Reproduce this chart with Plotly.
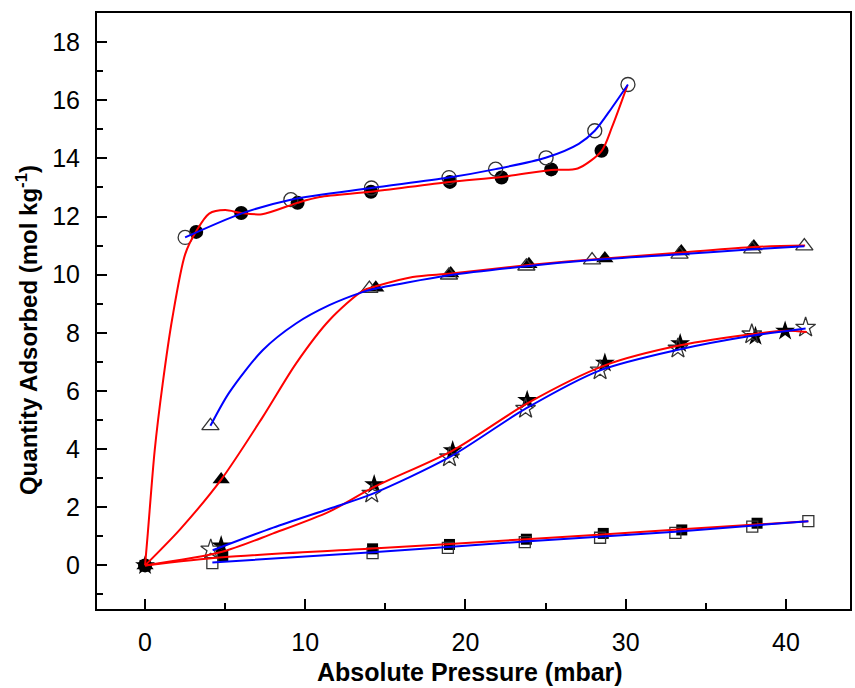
import plotly.graph_objects as go

# ---- measured points ----
oc_x = [2.5, 9.1, 14.13, 18.97, 21.88, 25.03, 28.07, 30.14]
oc_y = [11.28, 12.58, 12.98, 13.34, 13.63, 14.02, 14.95, 16.54]
fc_x = [0, 3.19, 6.0, 9.52, 14.1, 19.03, 22.25, 25.35, 28.49]
fc_y = [0, 11.47, 12.12, 12.47, 12.85, 13.19, 13.34, 13.62, 14.26]

ot_x = [4.08, 14.0, 18.97, 23.8, 27.9, 33.36, 37.9, 41.15]
ot_y = [4.8, 9.52, 9.98, 10.29, 10.5, 10.7, 10.88, 10.98]
ft_x = [0, 4.75, 14.4, 19.08, 23.96, 28.7, 33.47, 38.0]
ft_y = [0, 2.95, 9.55, 10.04, 10.36, 10.56, 10.8, 10.97]

os_x = [4.1, 14.15, 19.0, 23.75, 28.4, 33.26, 37.87, 41.23]
os_y = [0.55, 2.47, 3.72, 5.39, 6.71, 7.46, 7.95, 8.18]
fs_x = [0, 4.75, 14.3, 19.2, 23.85, 28.7, 33.4, 38.1, 39.95]
fs_y = [0, 0.68, 2.78, 3.95, 5.68, 6.96, 7.63, 7.88, 8.06]

osq_x = [4.2, 14.2, 18.9, 23.7, 28.4, 33.1, 37.9, 41.4]
osq_y = [0.08, 0.42, 0.6, 0.8, 0.95, 1.12, 1.33, 1.52]
fsq_x = [0, 4.85, 14.2, 19.0, 23.8, 28.6, 33.5, 38.2]
fsq_y = [0, 0.34, 0.57, 0.72, 0.9, 1.1, 1.22, 1.45]

# ---- fitted curves ----
rc_x = [0, 0.17, 0.6, 1.1, 1.7, 2.5, 3.2, 4.0, 5.0, 6.0, 7.3, 9.5, 10.9, 14.1, 19.0, 22.25, 25.35, 27.0, 28.5, 29.15, 30.1]
rc_y = [0, 1.1, 3.95, 6.25, 8.5, 10.7, 11.5, 12.1, 12.22, 12.12, 12.08, 12.47, 12.67, 12.85, 13.19, 13.36, 13.6, 13.65, 14.26, 15.08, 16.5]
bc_x = [2.5, 6.0, 9.1, 14.13, 18.97, 21.88, 25.0, 27.07, 28.07, 29.15, 30.14]
bc_y = [11.28, 12.1, 12.58, 12.98, 13.34, 13.63, 14.02, 14.5, 14.95, 15.75, 16.54]

rt_x = [0, 2.2, 4.75, 7.34, 9.42, 11.5, 13.6, 14.4, 16.7, 19.1, 23.95, 28.7, 33.5, 38.0, 41.2]
rt_y = [0, 1.25, 2.95, 5.1, 6.94, 8.43, 9.45, 9.6, 9.92, 10.04, 10.33, 10.56, 10.76, 10.95, 11.0]
bt_x = [4.08, 5.26, 7.34, 9.42, 11.5, 13.57, 14.2, 19.0, 23.8, 27.9, 33.36, 37.9, 41.15]
bt_y = [4.8, 5.95, 7.4, 8.32, 8.95, 9.4, 9.5, 9.98, 10.29, 10.5, 10.7, 10.87, 10.98]

rs_x = [0, 4.75, 8.0, 11.5, 14.3, 19.2, 23.85, 28.7, 33.4, 38.1, 40.0, 41.3]
rs_y = [0, 0.46, 1.1, 1.85, 2.7, 3.95, 5.57, 6.88, 7.57, 7.97, 8.07, 8.03]
bs_x = [4.22, 8.0, 11.5, 14.15, 19.0, 23.75, 28.4, 33.26, 37.87, 41.23]
bs_y = [0.52, 1.3, 1.95, 2.45, 3.72, 5.39, 6.71, 7.42, 7.9, 8.15]

rq_x = [0, 4.85, 14.2, 23.8, 33.5, 41.4]
rq_y = [0, 0.28, 0.58, 0.9, 1.24, 1.52]
bq_x = [4.2, 14.2, 23.7, 33.1, 41.4]
bq_y = [0.1, 0.45, 0.82, 1.16, 1.52]

x_ticks = [0, 10, 20, 30, 40]
y_ticks = [0, 2, 4, 6, 8, 10, 12, 14, 16, 18]

fig = go.Figure()

def add_markers(x, y, symbol, size, filled):
    if filled:
        m = dict(symbol=symbol, size=size, color="black", line=dict(width=0))
    else:
        m = dict(symbol=symbol + "-open", size=size, color="#333333", line=dict(width=1.3))
    fig.add_trace(go.Scatter(x=x, y=y, mode="markers", marker=m, showlegend=False, hoverinfo="skip"))

add_markers(fsq_x, fsq_y, "square", 11, True)
add_markers(osq_x, osq_y, "square", 11, False)
add_markers(fs_x, fs_y, "star", 15, True)
add_markers(os_x, os_y, "star", 15, False)
add_markers(ft_x, ft_y, "triangle-up", 15, True)
add_markers(ot_x, ot_y, "triangle-up", 15, False)
add_markers(fc_x, fc_y, "circle", 14, True)
add_markers(oc_x, oc_y, "circle", 14, False)

def add_line(x, y, color):
    fig.add_trace(go.Scatter(x=x, y=y, mode="lines",
                             line=dict(color=color, width=2, shape="spline", smoothing=0.8),
                             showlegend=False, hoverinfo="skip"))

add_line(rq_x, rq_y, "#ff0000")
add_line(bq_x, bq_y, "#0000ff")
add_line(rs_x, rs_y, "#ff0000")
add_line(bs_x, bs_y, "#0000ff")
add_line(rt_x, rt_y, "#ff0000")
add_line(bt_x, bt_y, "#0000ff")
add_line(rc_x, rc_y, "#ff0000")
add_line(bc_x, bc_y, "#0000ff")

axis_common = dict(showgrid=False, zeroline=False, showline=True, linecolor="black",
                   linewidth=2, mirror=True, ticks="inside", tickcolor="black",
                   tickwidth=2, ticklen=10, ticklabelstandoff=10,
                   tickfont=dict(family="Liberation Sans, Arial", size=25, color="black"))

fig.update_xaxes(range=[-3, 44], tickvals=x_ticks, ticktext=[str(v) for v in x_ticks],
                 minor=dict(dtick=5, tick0=0, ticks="inside", ticklen=6, tickwidth=2, tickcolor="black"),
                 **axis_common)
fig.update_yaxes(range=[-1.5, 19], tickvals=y_ticks, ticktext=[str(v) for v in y_ticks],
                 minor=dict(dtick=1, tick0=0, ticks="inside", ticklen=6, tickwidth=2, tickcolor="black"),
                 **axis_common)

fig.update_layout(
    width=855, height=688,
    margin=dict(l=97, r=3, t=13, b=79),
    paper_bgcolor="white", plot_bgcolor="white",
    font=dict(family="Liberation Sans, Arial", color="black"),
    annotations=[
        dict(text="<b>Absolute Pressure (mbar)</b>", x=0.495, y=-0.106, xref="paper", yref="paper",
             showarrow=False, font=dict(size=25, family="Liberation Sans, Arial", color="black"),
             xanchor="center", yanchor="middle"),
        dict(text="<b>Quantity Adsorbed (mol kg<sup>-1</sup>)</b>", x=-0.093, y=0.468, xref="paper", yref="paper",
             showarrow=False, textangle=-90,
             font=dict(size=24, family="Liberation Sans, Arial", color="black"),
             xanchor="center", yanchor="middle"),
    ],
)

fig.write_html("out.html")
